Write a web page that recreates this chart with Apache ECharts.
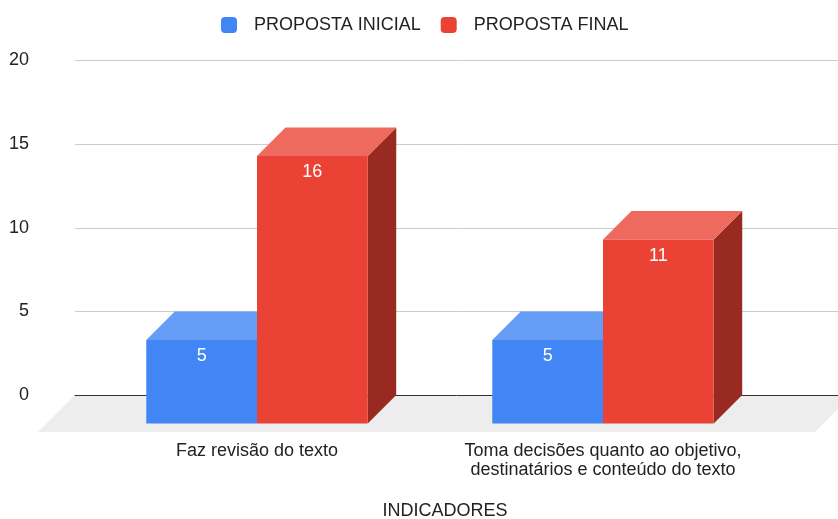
<!DOCTYPE html>
<html>
<head>
<meta charset="utf-8">
<script src="https://cdn.jsdelivr.net/npm/echarts@6/dist/echarts.min.js"></script>
<style>
html,body{margin:0;padding:0;background:#fff;}
#chart{width:838px;height:519px;}
</style>
</head>
<body>
<div id="chart"></div>
<script>
// ---- data ----
const categories = ['Faz revisão do texto', 'Toma decisões quanto ao objetivo,\ndestinatários e conteúdo do texto'];
const seriesNames = ['PROPOSTA INICIAL', 'PROPOSTA FINAL'];
const propostaInicial = [5, 5];
const propostaFinal = [16, 11];
const yMin = 0, yMax = 20, yInterval = 5;
const xAxisTitle = 'INDICADORES';

// ---- style ----
const FONT = '"Liberation Sans", Arial, sans-serif';
const TEXT = '#222222';
const DEPTH = 28.5;
const FLOOR_DEPTH = 37;
const palettes = [
  { front: '#4285F4', top: '#669DF6', side: '#2F5FB0' },
  { front: '#EA4335', top: '#EE6A5E', side: '#982A22' }
];

function makeBarRender(sIdx) {
  return function (params, api) {
    const ci = api.value(0);
    const v = api.value(1);
    const topPt = api.coord([ci, v]);
    const basePt = api.coord([ci, 0]);
    const bandW = api.size([1, 0])[0];
    const barW = bandW * 0.32;
    const x0 = sIdx === 0 ? topPt[0] - barW : topPt[0];
    const x1 = x0 + barW;
    const yBackTop = topPt[1];
    const yBackBase = basePt[1];
    const yFrontTop = yBackTop + DEPTH;
    const yFrontBase = yBackBase + DEPTH;
    const c = palettes[sIdx];
    return {
      type: 'group',
      children: [
        { type: 'polygon', shape: { points: [[x1, yFrontTop], [x1 + DEPTH, yBackTop], [x1 + DEPTH, yBackBase], [x1, yFrontBase]] }, style: { fill: c.side } },
        { type: 'polygon', shape: { points: [[x0, yFrontTop], [x0 + DEPTH, yBackTop], [x1 + DEPTH, yBackTop], [x1, yFrontTop]] }, style: { fill: c.top } },
        { type: 'rect', shape: { x: x0, y: yFrontTop, width: barW, height: yFrontBase - yFrontTop }, style: { fill: c.front } },
        { type: 'text', x: (x0 + x1) / 2, y: yFrontTop + 16.5,
          style: { text: String(v), fill: '#ffffff', align: 'center', verticalAlign: 'middle', fontSize: 18, fontFamily: FONT } }
      ]
    };
  };
}

function floorRender(params, api) {
  const cs = params.coordSys;
  const yb = cs.y + cs.height;
  const l = cs.x, r = cs.x + cs.width + 14;
  return {
    type: 'polygon',
    shape: { points: [[l, yb], [r, yb], [r - FLOOR_DEPTH, yb + FLOOR_DEPTH], [l - FLOOR_DEPTH, yb + FLOOR_DEPTH]] },
    style: { fill: '#EDEDED' }
  };
}

const chart = echarts.init(document.getElementById('chart'), null, { renderer: 'canvas' });
const option = {
  backgroundColor: '#ffffff',
  animation: false,
  textStyle: { fontFamily: FONT },
  legend: {
    data: seriesNames,
    top: 11,
    left: 216,
    icon: 'roundRect',
    itemWidth: 16,
    itemHeight: 16,
    itemGap: 20,
    textStyle: { fontSize: 18, color: TEXT, fontFamily: FONT, padding: [0, 0, 0, 12] }
  },
  grid: [
    { left: 75, right: 0, top: 60.5, bottom: 124, containLabel: false },
    { left: 84, right: 62, top: 60.5, bottom: 124, containLabel: false }
  ],
  xAxis: [
    { gridIndex: 0, type: 'value', min: 0, max: 1, z: 3,
      axisLine: { show: true, lineStyle: { color: '#333333', width: 1 } },
      axisTick: { show: false }, axisLabel: { show: false }, splitLine: { show: false } },
    { gridIndex: 1, type: 'category', data: categories, z: 6,
      axisLine: { show: false }, axisTick: { show: false }, splitLine: { show: false },
      axisLabel: { fontSize: 18, color: TEXT, fontFamily: FONT, margin: 47, lineHeight: 19, verticalAlign: 'top', interval: 0 } }
  ],
  yAxis: [
    { gridIndex: 0, type: 'value', min: yMin, max: yMax, interval: yInterval,
      axisLine: { show: false }, axisTick: { show: false },
      axisLabel: { fontSize: 18, color: TEXT, fontFamily: FONT, margin: 46, padding: [3, 0, 0, 0] },
      splitLine: { show: true, lineStyle: { color: '#CCCCCC', width: 1 } } },
    { gridIndex: 1, type: 'value', min: yMin, max: yMax, interval: yInterval, show: false }
  ],
  graphic: [
    { type: 'text', x: 445, y: 511, style: { text: xAxisTitle, fontSize: 18, fill: TEXT, fontFamily: FONT, align: 'center', verticalAlign: 'middle' } }
  ],
  series: [
    { name: 'floor', type: 'custom', xAxisIndex: 0, yAxisIndex: 0, z: 1, silent: true,
      renderItem: floorRender, data: [[0, 0]] },
    { name: seriesNames[0], type: 'custom', xAxisIndex: 1, yAxisIndex: 1, z: 5,
      itemStyle: { color: palettes[0].front },
      renderItem: makeBarRender(0),
      data: propostaInicial.map((v, i) => [i, v]) },
    { name: seriesNames[1], type: 'custom', xAxisIndex: 1, yAxisIndex: 1, z: 5,
      itemStyle: { color: palettes[1].front },
      renderItem: makeBarRender(1),
      data: propostaFinal.map((v, i) => [i, v]) }
  ]
};
chart.setOption(option);
</script>
</body>
</html>
